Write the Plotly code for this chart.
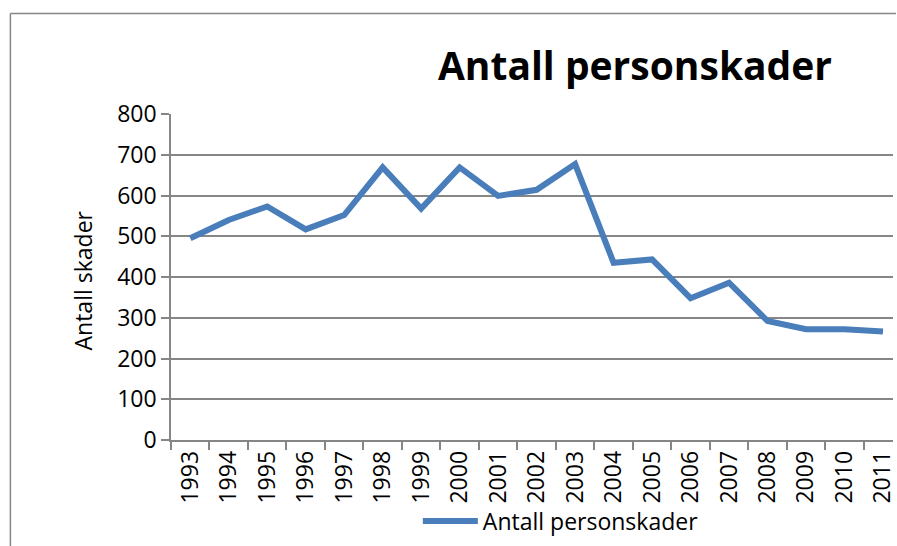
import plotly.graph_objects as go

years = [str(y) for y in range(1993, 2012)]
personskader = [495, 540, 573, 517, 552, 669, 568, 669, 599, 614, 677,
                435, 443, 348, 386, 292, 272, 272, 266]
y_ticks = [0, 100, 200, 300, 400, 500, 600, 700, 800]

GRAY = "#868686"
BLUE = "#4a7ebb"
FONT = "Open Sans"

fig = go.Figure()
fig.add_trace(go.Scatter(
    x=years, y=personskader, mode="lines",
    name="Antall personskader",
    line=dict(color=BLUE, width=6),
))

W, H = 897, 546
L, T = 171, 114
R = 0
B = H - 440
pw, ph = W - L - R, H - T - B

def px(x):
    return (x - L) / pw

def py(y):
    return (H - B - y) / ph

fig.update_layout(
    width=W, height=H,
    margin=dict(l=L, r=R, t=T, b=B),
    paper_bgcolor="white", plot_bgcolor="white",
    font=dict(family=FONT, size=23, color="#000000"),
    title=dict(text="<b>Antall personskader</b>", x=635 / W, xanchor="center",
               y=1 - 66 / H, yanchor="middle",
               font=dict(family=FONT, size=39, color="#000000")),
    showlegend=True,
    legend=dict(orientation="h", x=px(563), xanchor="center", y=py(521), yanchor="middle",
                itemwidth=55, font=dict(family=FONT, size=23),
                bgcolor="rgba(0,0,0,0)", tracegroupgap=0),
    xaxis=dict(type="category", range=[-0.5, 18.26], tickson="boundaries",
               ticks="outside", ticklen=8, tickcolor=GRAY, tickwidth=1.5,
               showline=True, linecolor=GRAY, linewidth=1.5,
               showgrid=False, tickangle=-90, tickfont=dict(size=23)),
    yaxis=dict(range=[0, 800], tickvals=y_ticks, ticks="outside", ticklen=8,
               tickcolor=GRAY, tickwidth=1.5, showline=True, linecolor=GRAY,
               linewidth=1.5, showgrid=True, gridcolor=GRAY, gridwidth=1.5,
               zeroline=False, tickfont=dict(size=23)),
    annotations=[dict(text="Antall skader", xref="paper", yref="paper",
                      x=px(83), y=py(280), textangle=-90, showarrow=False,
                      xanchor="center", yanchor="middle",
                      font=dict(family=FONT, size=23))],
    shapes=[
        dict(type="line", xref="paper", yref="paper",
             x0=px(9.5), y0=py(13.5), x1=px(9.5), y1=py(560),
             line=dict(color=GRAY, width=1.5), layer="below"),
        dict(type="line", xref="paper", yref="paper",
             x0=px(9.5), y0=py(13.5), x1=px(900), y1=py(13.5),
             line=dict(color=GRAY, width=1.5), layer="below"),
    ],
)

fig.write_html("out.html", config={"displayModeBar": False},
               post_script="document.body.style.margin='0';document.body.style.overflow='hidden';")
